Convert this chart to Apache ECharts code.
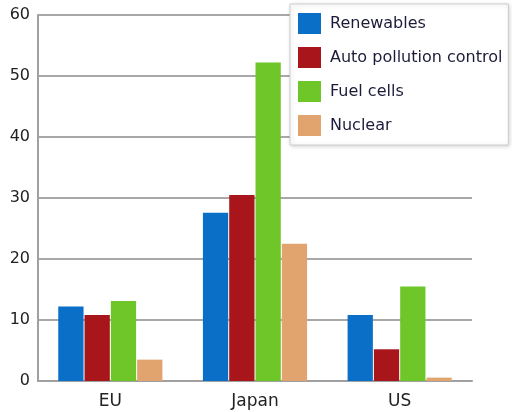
<!DOCTYPE html>
<html><head><meta charset="utf-8">
<script src="https://cdn.jsdelivr.net/npm/echarts@6/dist/echarts.min.js"></script>
<style>html,body{margin:0;padding:0;background:#fff}#c{width:512px;height:412px}</style>
</head><body><div id="c"></div>
<script>
const categories = ['EU', 'Japan', 'US'];
const seriesNames = ['Renewables', 'Auto pollution control', 'Fuel cells', 'Nuclear'];
const renewables = [12.2, 27.6, 10.8];
const autoPollution = [10.8, 30.5, 5.2];
const fuelCells = [13.1, 52.2, 15.5];
const nuclear = [3.5, 22.5, 0.55];
const colors = ['#0a6fc6', '#a8151a', '#6ec628', '#e2a46e'];
const yTicks = [0, 10, 20, 30, 40, 50, 60];

const values = [renewables, autoPollution, fuelCells, nuclear];
const chart = echarts.init(document.getElementById('c'));
chart.setOption({
  animation: false,
  grid: { left: 38, right: 40, top: 15, bottom: 31 },
  legend: {
    orient: 'vertical', left: 290, top: 4,
    itemWidth: 23, itemHeight: 21, itemGap: 13,
    padding: [9, 6, 9, 8],
    backgroundColor: '#fff', borderColor: '#cfcfcf', borderWidth: 1,
    shadowColor: 'rgba(0,0,0,0.18)', shadowBlur: 4, shadowOffsetX: 1, shadowOffsetY: 1,
    textStyle: { fontFamily: 'DejaVu Sans, sans-serif', fontSize: 16, color: '#1c1c3a', padding: [0, 0, 0, 4] },
    icon: 'rect',
    data: seriesNames
  },
  xAxis: {
    type: 'category', data: categories,
    axisLine: { lineStyle: { color: '#a0a0a0', width: 2 } },
    axisTick: { show: false },
    axisLabel: { fontFamily: 'DejaVu Sans, sans-serif', fontSize: 17, color: '#222', margin: 12 }
  },
  yAxis: {
    type: 'value', min: 0, max: 60, interval: 10,
    axisLine: { show: true, lineStyle: { color: '#a0a0a0', width: 2 } },
    axisTick: { show: false },
    splitLine: { lineStyle: { color: '#a8a8a8', width: 2 } },
    axisLabel: { fontFamily: 'DejaVu Sans, sans-serif', fontSize: 16, color: '#222', margin: 8,
      formatter: v => yTicks.includes(v) ? String(v) : '' }
  },
  series: seriesNames.map((n, i) => ({
    name: n, type: 'bar', data: values[i],
    itemStyle: { color: colors[i] },
    barGap: '4%', barCategoryGap: '28%'
  }))
});
</script></body></html>
